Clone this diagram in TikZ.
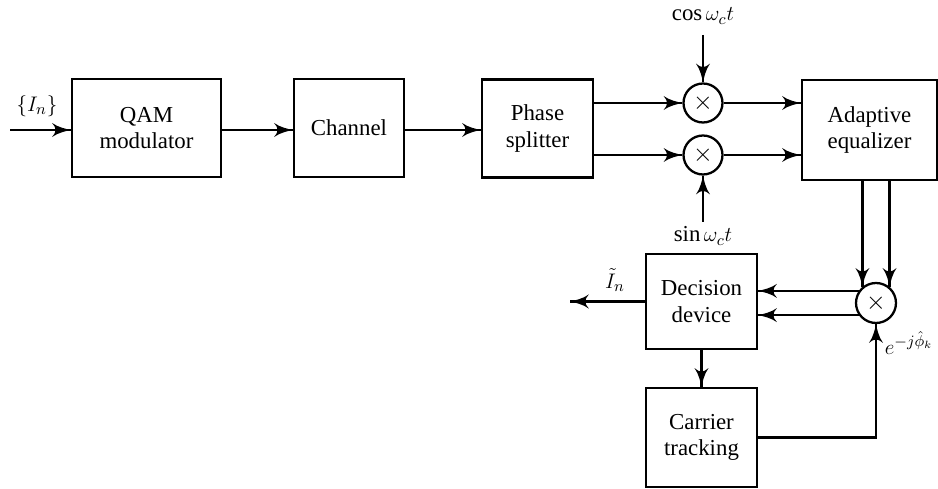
\documentclass[tikz,border=0pt]{standalone}
\usepackage{amsmath}
\usepackage{amssymb}
\usepackage{fontspec}
\setmainfont{Liberation Serif}
\usepackage{tikz}
\usetikzlibrary{arrows}
\usetikzlibrary{decorations.markings}
\usetikzlibrary{positioning}
\tikzset{->/.style = {decoration={markings,
                                  mark=at position 1 with {\arrow[scale=1.6]{latex'}}},
                      postaction={decorate}}}
\tikzset{block/.style = {draw, line width=1.3pt, align=center, inner sep=0pt,
                         font=\fontsize{13}{15}\selectfont},
         mixer/.style = {draw, circle, line width=1.3pt, minimum size=0.78cm, inner sep=0pt,
                          font=\Large},
         sig/.style = {font=\fontsize{13}{15}\selectfont}}

\begin{document}
\begin{tikzpicture}[x=0.02cm, y=-0.02cm, line width=1.3pt]
    \useasboundingbox (0, 0) rectangle (938, 489);
    % blocks
    \node [block, minimum width=2.98cm, minimum height=1.96cm] (qam) at (146.5, 128) {QAM\\modulator};
    \node [block, minimum width=2.2cm, minimum height=1.96cm] (chan) at (349, 128) {Channel};
    \node [block, minimum width=2.22cm, minimum height=1.96cm] (split) at (537.5, 128.5) {Phase\\splitter};
    \node [block, minimum width=2.7cm, minimum height=2cm] (eq) at (869.5, 130) {Adaptive\\equalizer};
    \node [block, minimum width=2.22cm, minimum height=1.9cm] (dec) at (701.5, 301.5) {Decision\\device};
    \node [block, minimum width=2.22cm, minimum height=1.98cm] (car) at (701.5, 437.5) {Carrier\\tracking};
    % multipliers
    \node [mixer] (mulc) at (703, 103) {$\times$};
    \node [mixer] (muls) at (703, 155) {$\times$};
    \node [mixer, minimum size=0.8cm] (muld) at (876, 303) {$\times$};
    % free ends
    \coordinate (in) at (10, 130);
    \coordinate (out) at (570, 301.5);
    \coordinate (cosin) at (703, 35);
    \coordinate (sinin) at (703, 222);
    % labels
    \node [sig] (inlab) at (37, 106) {$\{I_n\}$};
    \node [sig] (coslab) at (703, 16) {$\cos\omega_c t$};
    \node [sig] (sinlab) at (703, 236) {$\sin\omega_c t$};
    \node [sig] (outlab) at (615, 280) {$\tilde{I}_n$};
    \node [sig] (phlab) at (909, 343) {$e^{-j\hat{\phi}_k}$};
    % forward path
    \draw [->] (in) -- (qam.west |- in);
    \draw [->] (qam.east |- in) -- (chan.west |- in);
    \draw [->] (chan.east |- in) -- (split.west |- in);
    \draw [->] (split.east |- mulc) -- (mulc.west);
    \draw [->] (split.east |- muls) -- (muls.west);
    \draw [->] (cosin) -- (mulc.north);
    \draw [->] (sinin) -- (muls.south);
    \draw [->] (mulc.east) -- (eq.west |- mulc);
    \draw [->] (muls.east) -- (eq.west |- muls);
    % derotation and decision
    \draw [->] (eq.south -| muld.130) -- (muld.130);
    \draw [->] (eq.south -| muld.50) -- (muld.50);
    \draw [->] (muld.145) -- (muld.145 -| dec.east);
    \draw [->] (muld.215) -- (muld.215 -| dec.east);
    \draw [->] (dec.west) -- (out);
    \draw [->] (dec.south) -- (car.north);
    \draw [->] (car.east) -- (muld |- car.east) -- (muld.south);
  \end{tikzpicture}
\end{document}
